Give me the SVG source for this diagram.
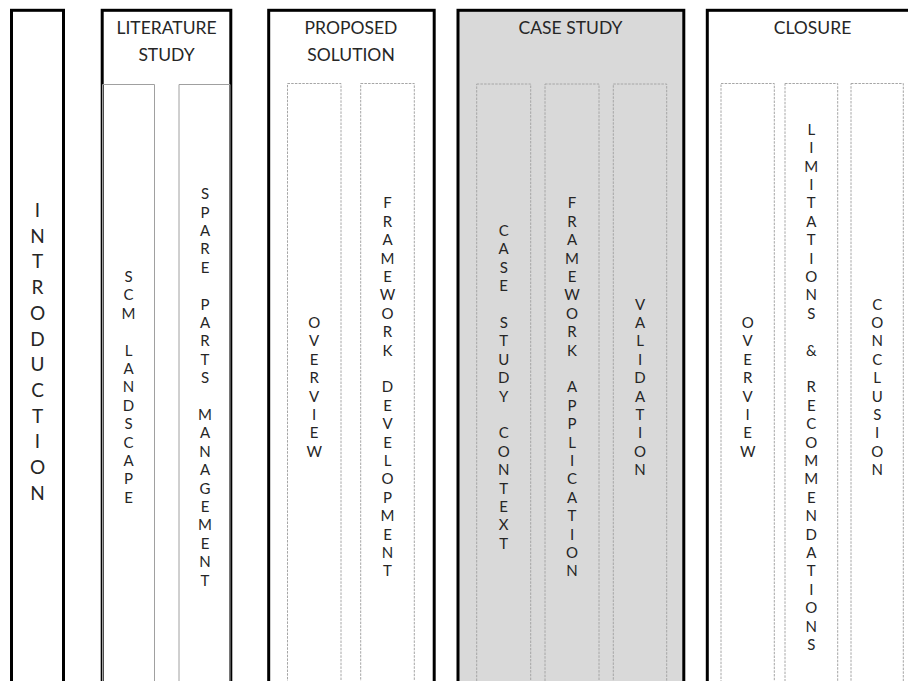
<svg xmlns="http://www.w3.org/2000/svg" width="908" height="681" viewBox="0 0 908 681">
<style>
.outer{fill:#fff;stroke:#000;stroke-width:3}
.shade{fill:#d9d9d9}
.solid{fill:none;stroke:#a0a0a0;stroke-width:1}
.dash{fill:none;stroke:#a6a6a6;stroke-width:1;stroke-dasharray:2.5 1.2}
.h{font-family:Lato,"Liberation Sans",sans-serif;font-size:17.5px;fill:#262626;text-anchor:middle}
.v{font-family:Lato,"Liberation Sans",sans-serif;font-size:15px;fill:#262626;text-anchor:middle}
.vi{font-family:Lato,"Liberation Sans",sans-serif;font-size:19px;fill:#262626;text-anchor:middle}
</style>
<rect width="908" height="681" fill="#fff"/>

<g id="introduction">
<rect class="outer" x="11.5" y="10.3" width="52" height="700"/>
<text class="vi" y="217"><tspan x="37.5">I</tspan><tspan x="37.5" dy="25.7">N</tspan><tspan x="37.5" dy="25.7">T</tspan><tspan x="37.5" dy="25.7">R</tspan><tspan x="37.5" dy="25.7">O</tspan><tspan x="37.5" dy="25.7">D</tspan><tspan x="37.5" dy="25.7">U</tspan><tspan x="37.5" dy="25.7">C</tspan><tspan x="37.5" dy="25.7">T</tspan><tspan x="37.5" dy="25.7">I</tspan><tspan x="37.5" dy="25.7">O</tspan><tspan x="37.5" dy="25.7">N</tspan></text>
</g>

<g id="literature-study">
<rect class="outer" x="102.2" y="10.3" width="128.6" height="700"/>
<text class="h" x="166.5" y="34.3">LITERATURE</text>
<text class="h" x="166.5" y="60.7">STUDY</text>
<g id="scm-landscape">
<path class="solid" d="M102.5 700V84.5H154.5V700"/>
<text class="v" y="282"><tspan x="128.5">S</tspan><tspan x="128.5" dy="18.4">C</tspan><tspan x="128.5" dy="18.4">M</tspan><tspan x="128.5" dy="36.8">L</tspan><tspan x="128.5" dy="18.4">A</tspan><tspan x="128.5" dy="18.4">N</tspan><tspan x="128.5" dy="18.4">D</tspan><tspan x="128.5" dy="18.4">S</tspan><tspan x="128.5" dy="18.4">C</tspan><tspan x="128.5" dy="18.4">A</tspan><tspan x="128.5" dy="18.4">P</tspan><tspan x="128.5" dy="18.4">E</tspan></text>
</g>
<g id="spare-parts-management">
<path class="solid" d="M179 700V84.5H230V700"/>
<text class="v" y="199.2"><tspan x="205">S</tspan><tspan x="205" dy="18.4">P</tspan><tspan x="205" dy="18.4">A</tspan><tspan x="205" dy="18.4">R</tspan><tspan x="205" dy="18.4">E</tspan><tspan x="205" dy="36.8">P</tspan><tspan x="205" dy="18.4">A</tspan><tspan x="205" dy="18.4">R</tspan><tspan x="205" dy="18.4">T</tspan><tspan x="205" dy="18.4">S</tspan><tspan x="205" dy="36.8">M</tspan><tspan x="205" dy="18.4">A</tspan><tspan x="205" dy="18.4">N</tspan><tspan x="205" dy="18.4">A</tspan><tspan x="205" dy="18.4">G</tspan><tspan x="205" dy="18.4">E</tspan><tspan x="205" dy="18.4">M</tspan><tspan x="205" dy="18.4">E</tspan><tspan x="205" dy="18.4">N</tspan><tspan x="205" dy="18.4">T</tspan></text>
</g>
</g>

<g id="proposed-solution">
<rect class="outer" x="268.7" y="10.3" width="165.5" height="700"/>
<text class="h" x="351" y="34.3">PROPOSED</text>
<text class="h" x="351" y="60.7">SOLUTION</text>
<g id="ps-overview">
<rect class="dash" x="287.5" y="83.5" width="53.5" height="620"/>
<text class="v" y="328"><tspan x="314.2">O</tspan><tspan x="314.2" dy="18.4">V</tspan><tspan x="314.2" dy="18.4">E</tspan><tspan x="314.2" dy="18.4">R</tspan><tspan x="314.2" dy="18.4">V</tspan><tspan x="314.2" dy="18.4">I</tspan><tspan x="314.2" dy="18.4">E</tspan><tspan x="314.2" dy="18.4">W</tspan></text>
</g>
<g id="framework-development">
<rect class="dash" x="360.7" y="83.5" width="53.6" height="620"/>
<text class="v" y="208.4"><tspan x="387.5">F</tspan><tspan x="387.5" dy="18.4">R</tspan><tspan x="387.5" dy="18.4">A</tspan><tspan x="387.5" dy="18.4">M</tspan><tspan x="387.5" dy="18.4">E</tspan><tspan x="387.5" dy="18.4">W</tspan><tspan x="387.5" dy="18.4">O</tspan><tspan x="387.5" dy="18.4">R</tspan><tspan x="387.5" dy="18.4">K</tspan><tspan x="387.5" dy="36.8">D</tspan><tspan x="387.5" dy="18.4">E</tspan><tspan x="387.5" dy="18.4">V</tspan><tspan x="387.5" dy="18.4">E</tspan><tspan x="387.5" dy="18.4">L</tspan><tspan x="387.5" dy="18.4">O</tspan><tspan x="387.5" dy="18.4">P</tspan><tspan x="387.5" dy="18.4">M</tspan><tspan x="387.5" dy="18.4">E</tspan><tspan x="387.5" dy="18.4">N</tspan><tspan x="387.5" dy="18.4">T</tspan></text>
</g>
</g>

<g id="case-study">
<rect class="outer shade" x="458" y="10.3" width="225.8" height="700" style="fill:#d9d9d9"/>
<text class="h" x="570.5" y="34.3">CASE STUDY</text>
<g id="case-study-context">
<rect class="dash" x="476.7" y="84" width="54" height="620"/>
<text class="v" y="236"><tspan x="503.7">C</tspan><tspan x="503.7" dy="18.4">A</tspan><tspan x="503.7" dy="18.4">S</tspan><tspan x="503.7" dy="18.4">E</tspan><tspan x="503.7" dy="36.8">S</tspan><tspan x="503.7" dy="18.4">T</tspan><tspan x="503.7" dy="18.4">U</tspan><tspan x="503.7" dy="18.4">D</tspan><tspan x="503.7" dy="18.4">Y</tspan><tspan x="503.7" dy="36.8">C</tspan><tspan x="503.7" dy="18.4">O</tspan><tspan x="503.7" dy="18.4">N</tspan><tspan x="503.7" dy="18.4">T</tspan><tspan x="503.7" dy="18.4">E</tspan><tspan x="503.7" dy="18.4">X</tspan><tspan x="503.7" dy="18.4">T</tspan></text>
</g>
<g id="framework-application">
<rect class="dash" x="545" y="84" width="54" height="620"/>
<text class="v" y="208.4"><tspan x="572">F</tspan><tspan x="572" dy="18.4">R</tspan><tspan x="572" dy="18.4">A</tspan><tspan x="572" dy="18.4">M</tspan><tspan x="572" dy="18.4">E</tspan><tspan x="572" dy="18.4">W</tspan><tspan x="572" dy="18.4">O</tspan><tspan x="572" dy="18.4">R</tspan><tspan x="572" dy="18.4">K</tspan><tspan x="572" dy="36.8">A</tspan><tspan x="572" dy="18.4">P</tspan><tspan x="572" dy="18.4">P</tspan><tspan x="572" dy="18.4">L</tspan><tspan x="572" dy="18.4">I</tspan><tspan x="572" dy="18.4">C</tspan><tspan x="572" dy="18.4">A</tspan><tspan x="572" dy="18.4">T</tspan><tspan x="572" dy="18.4">I</tspan><tspan x="572" dy="18.4">O</tspan><tspan x="572" dy="18.4">N</tspan></text>
</g>
<g id="validation">
<rect class="dash" x="613.3" y="84" width="53.4" height="620"/>
<text class="v" y="309.6"><tspan x="640">V</tspan><tspan x="640" dy="18.4">A</tspan><tspan x="640" dy="18.4">L</tspan><tspan x="640" dy="18.4">I</tspan><tspan x="640" dy="18.4">D</tspan><tspan x="640" dy="18.4">A</tspan><tspan x="640" dy="18.4">T</tspan><tspan x="640" dy="18.4">I</tspan><tspan x="640" dy="18.4">O</tspan><tspan x="640" dy="18.4">N</tspan></text>
</g>
</g>

<g id="closure">
<rect class="outer" x="707.3" y="10.3" width="210" height="700"/>
<text class="h" x="812.5" y="34.3">CLOSURE</text>
<g id="cl-overview">
<rect class="dash" x="721" y="83.5" width="53.3" height="620"/>
<text class="v" y="328"><tspan x="747.7">O</tspan><tspan x="747.7" dy="18.4">V</tspan><tspan x="747.7" dy="18.4">E</tspan><tspan x="747.7" dy="18.4">R</tspan><tspan x="747.7" dy="18.4">V</tspan><tspan x="747.7" dy="18.4">I</tspan><tspan x="747.7" dy="18.4">E</tspan><tspan x="747.7" dy="18.4">W</tspan></text>
</g>
<g id="limitations-recommendations">
<rect class="dash" x="785" y="83.5" width="52.7" height="620"/>
<text class="v" y="134.8"><tspan x="811.3">L</tspan><tspan x="811.3" dy="18.4">I</tspan><tspan x="811.3" dy="18.4">M</tspan><tspan x="811.3" dy="18.4">I</tspan><tspan x="811.3" dy="18.4">T</tspan><tspan x="811.3" dy="18.4">A</tspan><tspan x="811.3" dy="18.4">T</tspan><tspan x="811.3" dy="18.4">I</tspan><tspan x="811.3" dy="18.4">O</tspan><tspan x="811.3" dy="18.4">N</tspan><tspan x="811.3" dy="18.4">S</tspan><tspan x="811.3" dy="36.8">&amp;</tspan><tspan x="811.3" dy="36.8">R</tspan><tspan x="811.3" dy="18.4">E</tspan><tspan x="811.3" dy="18.4">C</tspan><tspan x="811.3" dy="18.4">O</tspan><tspan x="811.3" dy="18.4">M</tspan><tspan x="811.3" dy="18.4">M</tspan><tspan x="811.3" dy="18.4">E</tspan><tspan x="811.3" dy="18.4">N</tspan><tspan x="811.3" dy="18.4">D</tspan><tspan x="811.3" dy="18.4">A</tspan><tspan x="811.3" dy="18.4">T</tspan><tspan x="811.3" dy="18.4">I</tspan><tspan x="811.3" dy="18.4">O</tspan><tspan x="811.3" dy="18.4">N</tspan><tspan x="811.3" dy="18.4">S</tspan></text>
</g>
<g id="conclusion">
<rect class="dash" x="851" y="83.5" width="52.3" height="620"/>
<text class="v" y="309.6"><tspan x="877.2">C</tspan><tspan x="877.2" dy="18.4">O</tspan><tspan x="877.2" dy="18.4">N</tspan><tspan x="877.2" dy="18.4">C</tspan><tspan x="877.2" dy="18.4">L</tspan><tspan x="877.2" dy="18.4">U</tspan><tspan x="877.2" dy="18.4">S</tspan><tspan x="877.2" dy="18.4">I</tspan><tspan x="877.2" dy="18.4">O</tspan><tspan x="877.2" dy="18.4">N</tspan></text>
</g>
</g>

<g id="connectors"/>
</svg>
